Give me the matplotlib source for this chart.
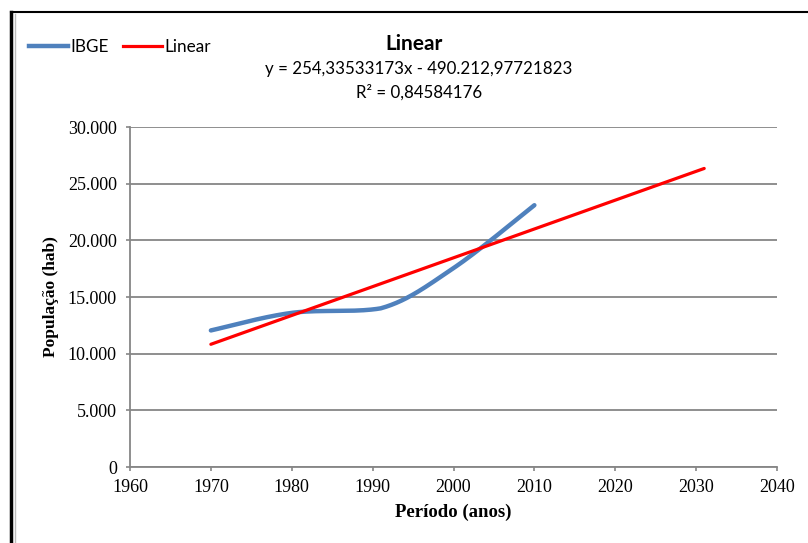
import numpy as np
import matplotlib
matplotlib.use("Agg")
import matplotlib.pyplot as plt
from matplotlib.lines import Line2D

# IBGE census data
anos = [1970, 1980, 1991, 2000, 2010]
pop = [12050, 13600, 14000, 17550, 23100]

# linear trendline shown on the chart
slope = 254.33533173
intercept = -490212.97721823
trend_x = [1970, 2031]

yticks = [0, 5000, 10000, 15000, 20000, 25000, 30000]
xticks = [1960, 1970, 1980, 1990, 2000, 2010, 2020, 2030, 2040]


def smooth(xs, ys, n=60):
    # bezier smoothing like excel, control points kept between neighbours
    P = np.column_stack([xs, ys]).astype(float)
    P = np.vstack([P[0], P, P[-1]])
    out = []
    for i in range(1, len(P) - 2):
        p0, p1, p2, p3 = P[i - 1], P[i], P[i + 1], P[i + 2]
        c1 = p1 + (p2 - p0) / 6
        c2 = p2 - (p3 - p1) / 6
        lo, hi = min(p1[1], p2[1]), max(p1[1], p2[1])
        c1[1] = np.clip(c1[1], lo, hi)
        c2[1] = np.clip(c2[1], lo, hi)
        t = np.linspace(0, 1, n)[:, None]
        seg = (1 - t) ** 3 * p1 + 3 * (1 - t) ** 2 * t * c1 + 3 * (1 - t) * t ** 2 * c2 + t ** 3 * p2
        out.append(seg)
    out = np.vstack(out)
    return out[:, 0], out[:, 1]


fmt = lambda v: "{:,.0f}".format(v).replace(",", ".")

fig = plt.figure(figsize=(8.08, 5.43), dpi=100)
ax = fig.add_axes([130 / 808, 1 - 467 / 543, 647 / 808, 340 / 543])

sx, sy = smooth(anos, pop)
ax.plot(sx, sy, color="#4F81BD", lw=3.2, solid_capstyle="round", zorder=3)
tx = np.array(trend_x, dtype=float)
ax.plot(tx, slope * tx + intercept, color="#FF0000", lw=2.3, solid_capstyle="round", zorder=4)

ax.set_xlim(1960, 2040)
ax.set_ylim(0, 30000)
ax.set_xticks(xticks)
ax.set_yticks(yticks)
ax.set_yticklabels([fmt(v) for v in yticks])
ax.grid(axis="y", color="#868686", lw=1.3)
ax.set_axisbelow(True)
for s in ["top", "right"]:
    ax.spines[s].set_visible(False)
for s in ["left", "bottom"]:
    ax.spines[s].set_color("#868686")
    ax.spines[s].set_linewidth(1.3)
ax.tick_params(colors="#868686", length=3, width=1.2, labelcolor="black",
               labelfontfamily="Liberation Serif", labelsize=13)
ax.tick_params(axis="y", pad=6.5)
ax.tick_params(axis="x", pad=6)
ax.set_ylabel("População (hab)", fontfamily="Liberation Serif", fontweight="bold", fontsize=12.5, labelpad=6)
ax.set_xlabel("Período (anos)", fontfamily="Liberation Serif", fontweight="bold", fontsize=13.5, labelpad=5)

# title and trendline equation
fig.text(414 / 808, 1 - 44 / 543, "Linear", ha="center", va="center", fontfamily="Lato", fontweight="bold", fontsize=15)
fig.text(419 / 808, 1 - 69 / 543, "y = 254,33533173x - 490.212,97721823", ha="center", va="center", fontfamily="Lato", fontsize=12.2)
fig.text(419 / 808, 1 - 92 / 543, "R² = 0,84584176", ha="center", va="center", fontfamily="Lato", fontsize=12.2)

# legend
h = [Line2D([], [], color="#4F81BD", lw=3.2), Line2D([], [], color="#FF0000", lw=2.3)]
fig.legend(h, ["IBGE", "Linear"], loc="center left", bbox_to_anchor=(29 / 808, 1 - 47 / 543), ncol=2,
           frameon=False, prop={"family": "Lato", "size": 12.3}, handlelength=2.3, handletextpad=0.1,
           columnspacing=0.85, borderpad=0, borderaxespad=0)

# outer frame of the chart area
fig.add_artist(Line2D([11 / 808, 11 / 808], [0, 1 - 12 / 543], color="black", lw=2.5))
fig.add_artist(Line2D([11 / 808, 1], [1 - 12 / 543, 1 - 12 / 543], color="black", lw=1.5))
fig.add_artist(Line2D([15 / 808, 15 / 808], [0, 1 - 14 / 543], color="#BBBBBB", lw=1))

fig.savefig("out.png", dpi=100)
